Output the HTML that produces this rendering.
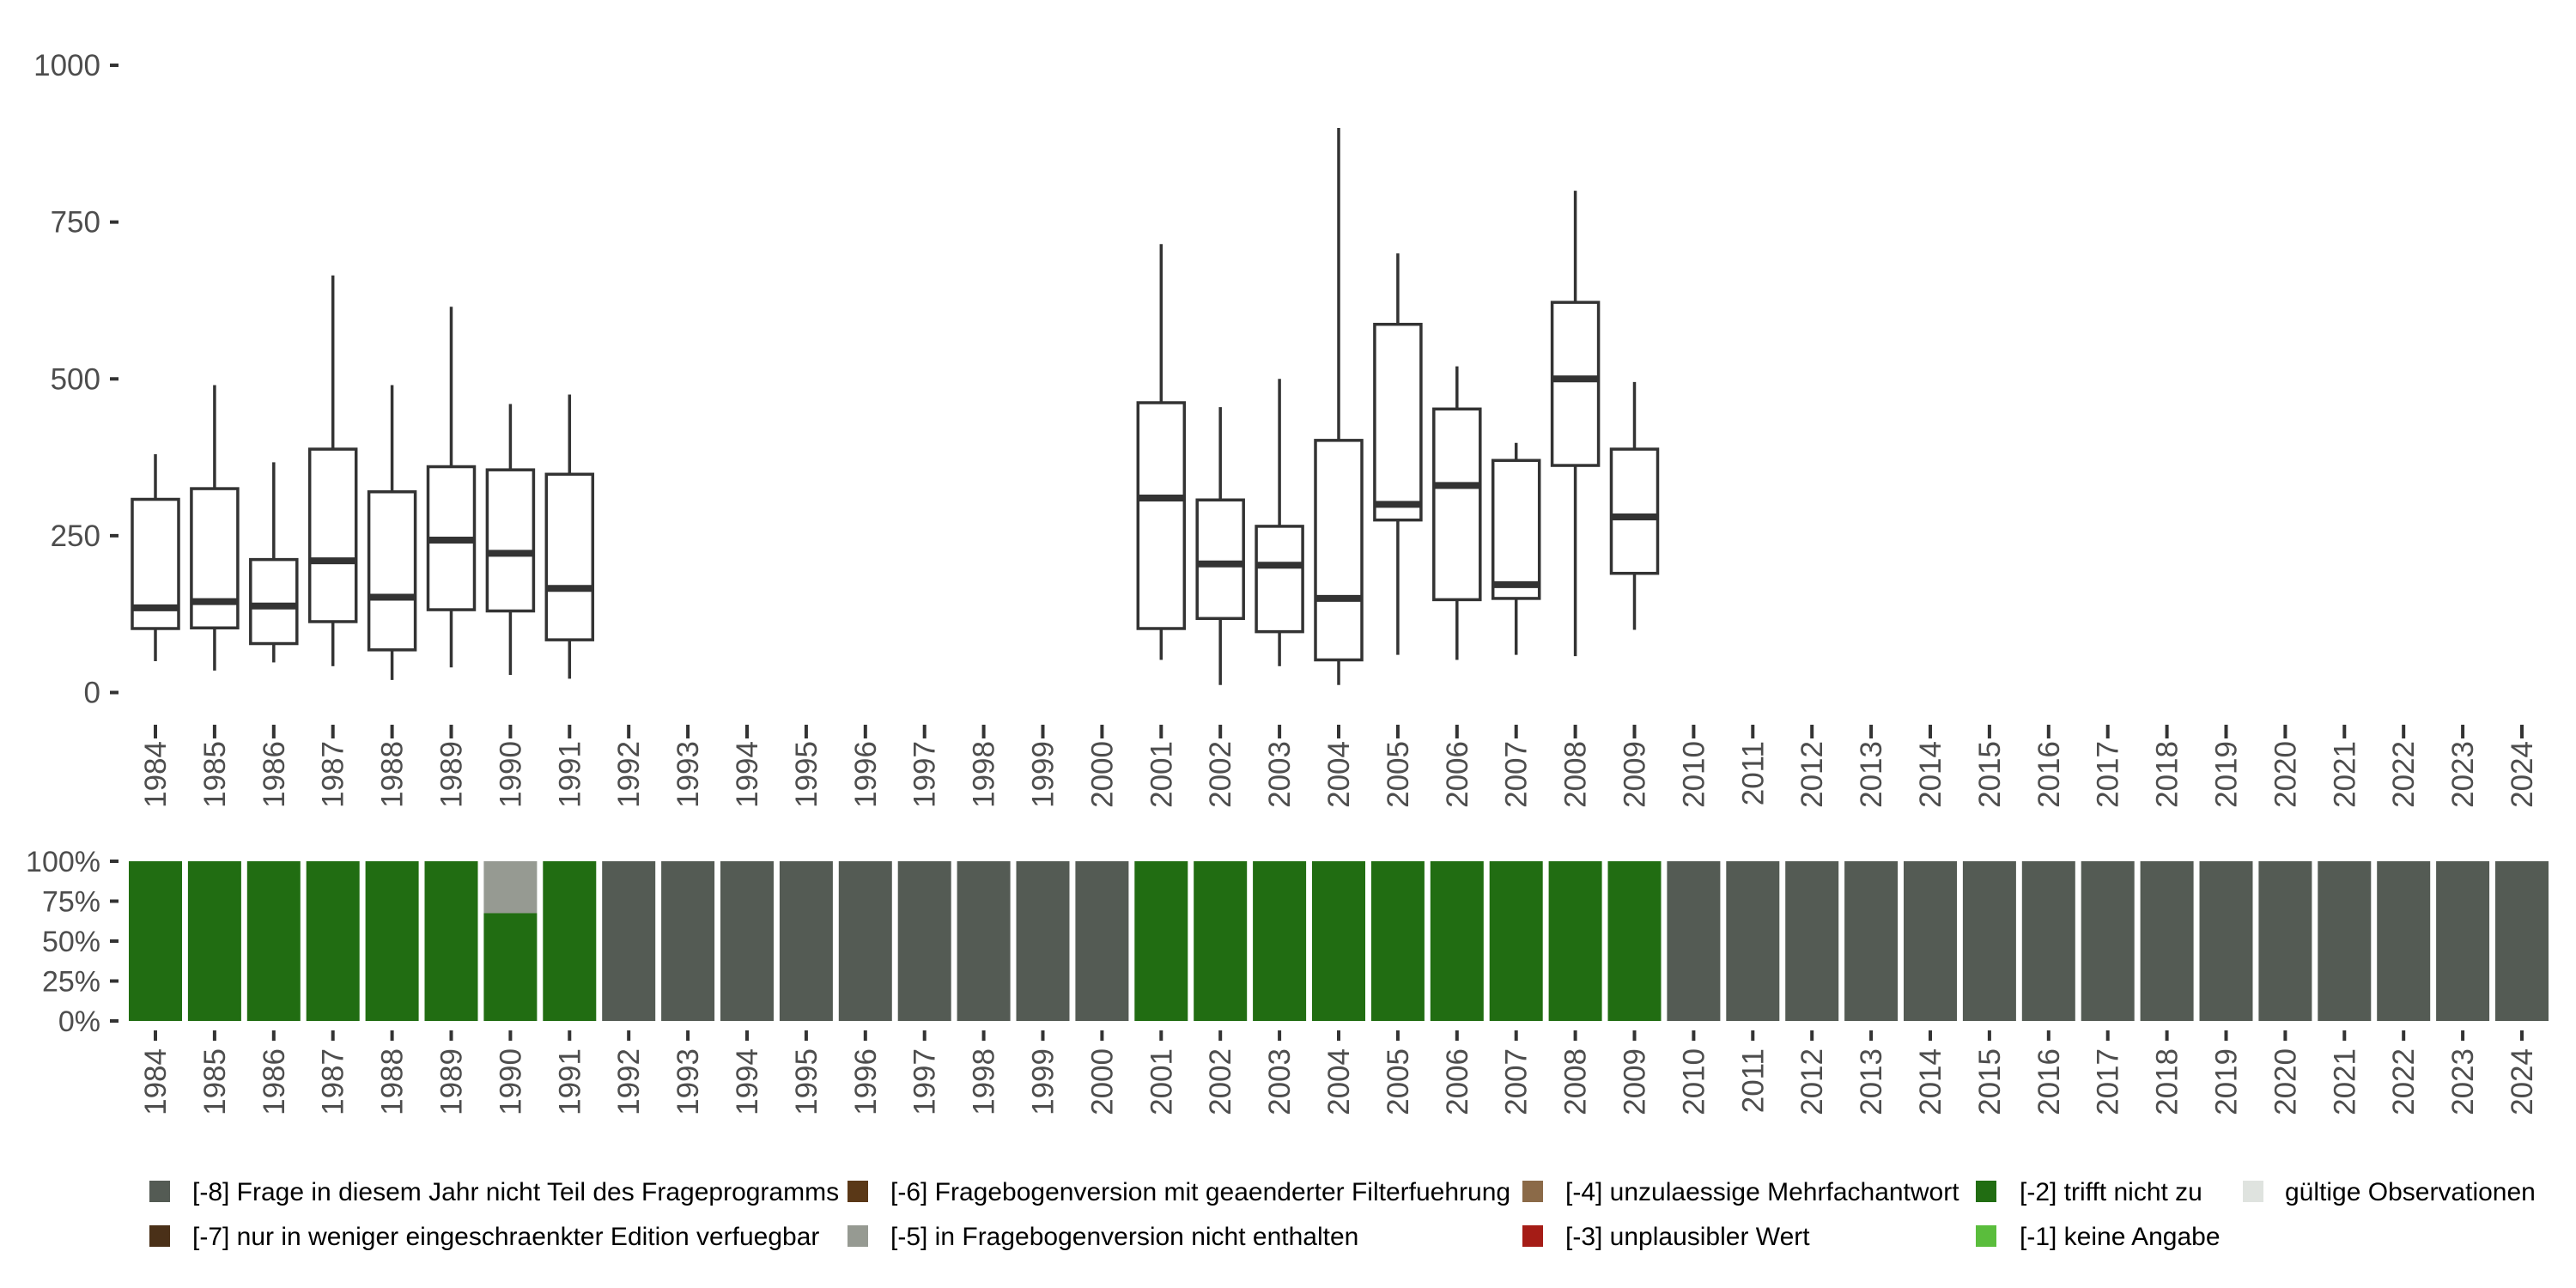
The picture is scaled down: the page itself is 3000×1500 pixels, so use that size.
<!DOCTYPE html>
<html><head><meta charset="utf-8"><style>
html,body{margin:0;padding:0;background:#fff;width:3000px;height:1500px;overflow:hidden}
svg text{font-family:"Liberation Sans Narrow","Liberation Sans",sans-serif}
</style></head><body>
<svg id="chart" width="3000" height="1500" xmlns="http://www.w3.org/2000/svg"></svg>
<script>
const years=[];for(let y=1984;y<=2024;y++)years.push(y);
const boxYears=[1984,1985,1986,1987,1988,1989,1990,1991,2001,2002,2003,2004,2005,2006,2007,2008,2009];
const whiskerLow=[50,35,48,42,20,40,28,22,52,12,42,12,60,52,60,58,100];
const q1=[102,103,78,113,68,132,130,84,102,118,97,52,275,148,150,362,190];
const medians=[135,145,138,210,152,243,222,166,310,205,203,150,300,330,172,500,280];
const q3=[308,325,212,388,320,360,355,348,462,307,265,402,587,452,370,622,388];
const whiskerHigh=[380,490,367,665,490,615,460,475,715,455,500,900,700,520,398,800,495];
const yTicks=[0,250,500,750,1000];
const pctTicks=[0,25,50,75,100];
const greenYears=[1984,1985,1986,1987,1988,1989,1990,1991,2001,2002,2003,2004,2005,2006,2007,2008,2009];
const greenShare=[100,100,100,100,100,100,67.5,100,100,100,100,100,100,100,100,100,100];
const legendLabels=["[-8] Frage in diesem Jahr nicht Teil des Frageprogramms","[-7] nur in weniger eingeschraenkter Edition verfuegbar","[-6] Fragebogenversion mit geaenderter Filterfuehrung","[-5] in Fragebogenversion nicht enthalten","[-4] unzulaessige Mehrfachantwort","[-3] unplausibler Wert","[-2] trifft nicht zu","[-1] keine Angabe","gültige Observationen"];
const legendColors=["#545b54","#4a3018","#5a3817","#969a92","#8b6a48","#a51c16","#216d12","#5abd3c","#dfe3df"];

const NS="http://www.w3.org/2000/svg";
const svg=document.getElementById('chart');
function el(t,a,p){const e=document.createElementNS(NS,t);for(const k in a)e.setAttribute(k,a[k]);(p||svg).appendChild(e);return e;}
const xPos=y=>181+(y-1984)*68.9;
const yTop=v=>806.5-v*0.7305;
const yBot=p=>1189-p*1.86;

yTicks.forEach(v=>{
  const t=el('text',{x:117,y:yTop(v)+12,'text-anchor':'end','font-size':35,fill:'#4d4d4d'});t.textContent=v;
  
  
  const l=el('line',{x1:128,x2:138,y1:yTop(v),y2:yTop(v),stroke:'#333','stroke-width':4});
  
  
});
years.forEach(y=>{
  const x=xPos(y);
  [[844,860,863],[1200,1212,1221]].forEach(([a,b,ly])=>{
    const l=el('line',{x1:x,x2:x,y1:a,y2:b,stroke:'#333','stroke-width':4});
    
    
    const t=el('text',{x:0,y:0,'text-anchor':'end','font-size':35,fill:'#4d4d4d',transform:`translate(${x+12},${ly}) rotate(-90)`});t.textContent=y;
    
    
  });
});
boxYears.forEach((y,i)=>{
  const x=xPos(y),w=54;
  const g=el('g',{});
  
  
  el('line',{x1:x,x2:x,y1:yTop(whiskerHigh[i]),y2:yTop(q3[i]),stroke:'#333','stroke-width':3.5},g);
  el('line',{x1:x,x2:x,y1:yTop(q1[i]),y2:yTop(whiskerLow[i]),stroke:'#333','stroke-width':3.5},g);
  el('rect',{x:x-w/2,y:yTop(q3[i]),width:w,height:yTop(q1[i])-yTop(q3[i]),fill:'#fff',stroke:'#333','stroke-width':3.5},g);
  el('line',{x1:x-w/2,x2:x+w/2,y1:yTop(medians[i]),y2:yTop(medians[i]),stroke:'#333','stroke-width':8},g);
});
pctTicks.forEach(p=>{
  const t=el('text',{x:117,y:yBot(p)+12,'text-anchor':'end','font-size':34,fill:'#4d4d4d'});t.textContent=p+'%';
  
  
  const l=el('line',{x1:128,x2:138,y1:yBot(p),y2:yBot(p),stroke:'#333','stroke-width':4});
  
  
});
years.forEach(y=>{
  const x=xPos(y),w=62;
  const gi=greenYears.indexOf(y);
  const g=gi>=0?greenShare[gi]:0;
  const rest=gi>=0?legendColors[3]:legendColors[0];
  const r1=el('rect',{x:x-w/2,y:yBot(100),width:w,height:yBot(g)-yBot(100),fill:rest});
  
  
  if(g>0){
    const r2=el('rect',{x:x-w/2,y:yBot(g),width:w,height:yBot(0)-yBot(g),fill:legendColors[6]});
    
    
  }
});
const colX=[[174,224],[987,1037],[1773,1823],[2301,2352],[2612,2661]];
legendLabels.forEach((lab,i)=>{
  const c=Math.floor(i/2),r=i%2;
  const [sx,tx]=colX[c];const cy=r?1439:1387;
  const g=el('g',{});
  
  
  el('rect',{x:sx,y:cy-12,width:24,height:25,fill:legendColors[i]},g);
  const t=el('text',{x:tx,y:cy+11,'font-size':30,fill:'#000'},g);t.textContent=lab;
});
</script>
</body></html>
